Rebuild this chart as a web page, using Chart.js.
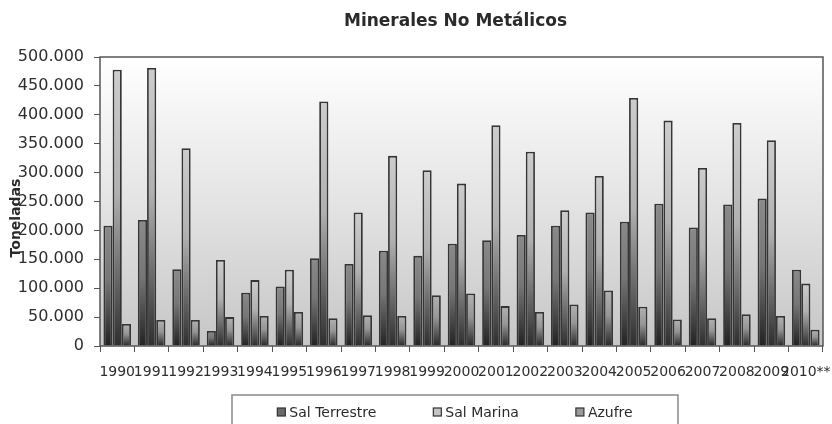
<!DOCTYPE html>
<html>
<head>
<meta charset="utf-8">
<script src="https://cdn.jsdelivr.net/npm/chart.js@4/dist/chart.umd.min.js"></script>
<style>
  html, body { margin: 0; padding: 0; background: #ffffff; }
  #wrap { width: 832px; height: 424px; position: relative; }
</style>
</head>
<body>
<div id="wrap"><canvas id="c" width="832" height="424"></canvas></div>
<script>
// Production of non-metallic minerals (tonnes)
const years = ['1990','1991','1992','1993','1994','1995','1996','1997','1998','1999','2000',
               '2001','2002','2003','2004','2005','2006','2007','2008','2009','2010**'];
const salTerrestre = [208000,218000,133000,26000,92000,103000,152000,142000,165000,156000,177000,
                      183000,192000,208000,231000,215000,246000,205000,245000,255000,132000];
const salMarina    = [478000,481000,342000,149000,114000,132000,423000,231000,329000,304000,281000,
                      382000,336000,235000,294000,429000,390000,308000,386000,356000,108000];
const azufre       = [38000,45000,45000,50000,52000,59000,48000,53000,52000,88000,91000,
                      69000,59000,72000,96000,68000,46000,48000,55000,52000,28000];
const seriesNames  = ['Sal Terrestre','Sal Marina','Azufre'];
const yTicksMax = 500000;
const yTickStep = 50000;

const chartTitle = 'Minerales No Metálicos';
const yTitle = 'Toneladas';

// top / bottom shades for each series' bar gradient
const shades = [
  { top: '#8a8a8a', mid: '#767676', bottom: '#222222', key: '#6a6a6a' },
  { top: '#cdcdcd', mid: '#b0b0b0', bottom: '#2e2e2e', key: '#c4c4c4' },
  { top: '#b2b2b2', mid: '#959595', bottom: '#282828', key: '#9a9a9a' }
];

function fmt(v) {
  return String(v).replace(/\B(?=(\d{3})+(?!\d))/g, '.');
}

function barFill(idx) {
  return function (ctx) {
    const chart = ctx.chart;
    const s = shades[idx];
    if (!chart.chartArea || !chart.scales.y || ctx.raw == null) return s.mid;
    const y = chart.scales.y;
    const top = y.getPixelForValue(ctx.raw);
    const base = y.getPixelForValue(0);
    if (!isFinite(top) || !isFinite(base) || base - top < 1) return s.mid;
    const g = chart.ctx.createLinearGradient(0, top, 0, base);
    g.addColorStop(0, s.top);
    g.addColorStop(0.45, s.mid);
    g.addColorStop(1, s.bottom);
    return g;
  };
}

const FONT = 'DejaVu Sans';

// plot background, frame, titles and the boxed key below the axis
const decor = {
  id: 'decor',
  beforeDatasetsDraw(chart) {
    const { ctx, chartArea: a } = chart;
    ctx.save();
    const g = ctx.createLinearGradient(0, a.top, 0, a.bottom);
    g.addColorStop(0, '#ffffff');
    g.addColorStop(0.5, '#e4e4e4');
    g.addColorStop(1, '#c6c6c6');
    ctx.fillStyle = g;
    ctx.fillRect(a.left, a.top, a.right - a.left, a.bottom - a.top);
    ctx.restore();
  },
  afterDraw(chart) {
    const { ctx, chartArea: a } = chart;
    ctx.save();
    // frame
    ctx.strokeStyle = '#555555';
    ctx.lineWidth = 1.5;
    ctx.strokeRect(a.left, a.top, a.right - a.left, a.bottom - a.top);

    // chart title
    ctx.fillStyle = '#2a2a2a';
    ctx.font = 'bold 17px "' + FONT + '"';
    ctx.textAlign = 'center';
    ctx.textBaseline = 'middle';
    ctx.fillText(chartTitle, (a.left + a.right) / 2 - 6, 22);

    // y axis title
    ctx.save();
    ctx.translate(16, 218);
    ctx.rotate(-Math.PI / 2);
    ctx.font = 'bold 14px "' + FONT + '"';
    ctx.fillStyle = '#2a2a2a';
    ctx.fillText(yTitle, 0, 0);
    ctx.restore();

    // key box
    const boxL = 232, boxR = 678, boxT = 395;
    ctx.strokeStyle = '#8a8a8a';
    ctx.lineWidth = 1.5;
    ctx.beginPath();
    ctx.moveTo(boxL, chart.height + 2);
    ctx.lineTo(boxL, boxT);
    ctx.lineTo(boxR, boxT);
    ctx.lineTo(boxR, chart.height + 2);
    ctx.stroke();

    ctx.font = '14px "' + FONT + '"';
    ctx.textAlign = 'left';
    const mk = 8, gapText = 4, gapItem = 57;
    const widths = seriesNames.map(n => mk + gapText + ctx.measureText(n).width);
    const total = widths.reduce((p, w) => p + w, 0) + gapItem * (seriesNames.length - 1);
    let x = (boxL + boxR) / 2 - total / 2;
    const cy = 412;
    seriesNames.forEach((n, i) => {
      ctx.fillStyle = shades[i].key;
      ctx.fillRect(x, cy - mk / 2, mk, mk);
      ctx.strokeStyle = '#333333';
      ctx.lineWidth = 1.2;
      ctx.strokeRect(x, cy - mk / 2, mk, mk);
      ctx.fillStyle = '#2a2a2a';
      ctx.fillText(n, x + mk + gapText, cy + 1);
      x += widths[i] + gapItem;
    });
    ctx.restore();
  }
};

const data = {
  labels: years,
  datasets: [salTerrestre, salMarina, azufre].map((vals, i) => ({
    label: seriesNames[i],
    data: vals,
    backgroundColor: barFill(i),
    borderColor: '#353535',
    borderWidth: 1.8,
    categoryPercentage: 0.8,
    barPercentage: 1.0
  }))
};

new Chart(document.getElementById('c'), {
  type: 'bar',
  data,
  plugins: [decor],
  options: {
    responsive: false,
    animation: false,
    devicePixelRatio: 1,
    layout: { padding: { left: 0, right: 9, top: 57, bottom: 38 } },
    plugins: {
      legend: { display: false },
      title: { display: false },
      tooltip: { enabled: false }
    },
    scales: {
      x: {
        grid: { display: true, drawOnChartArea: false, drawTicks: true, tickLength: 6, color: '#555555', offset: true },
        border: { display: false },
        ticks: {
          autoSkip: false, maxRotation: 0, minRotation: 0, padding: 12,
          color: '#2e2e2e', font: { family: FONT, size: 14 }
        },
        afterFit(scale) {
          scale.height = 40;
          scale.paddingLeft = 0;
          scale.paddingRight = 0;
        }
      },
      y: {
        min: 0,
        max: yTicksMax,
        grid: { display: true, drawOnChartArea: false, drawTicks: true, tickLength: 6, color: '#555555' },
        border: { display: false },
        ticks: {
          stepSize: yTickStep, padding: 10,
          color: '#2e2e2e', font: { family: FONT, size: 16 },
          callback: v => fmt(v)
        },
        afterFit(scale) {
          scale.width = 100;
          scale.paddingTop = 0;
          scale.paddingBottom = 0;
        }
      }
    }
  }
});
</script>
</body>
</html>
